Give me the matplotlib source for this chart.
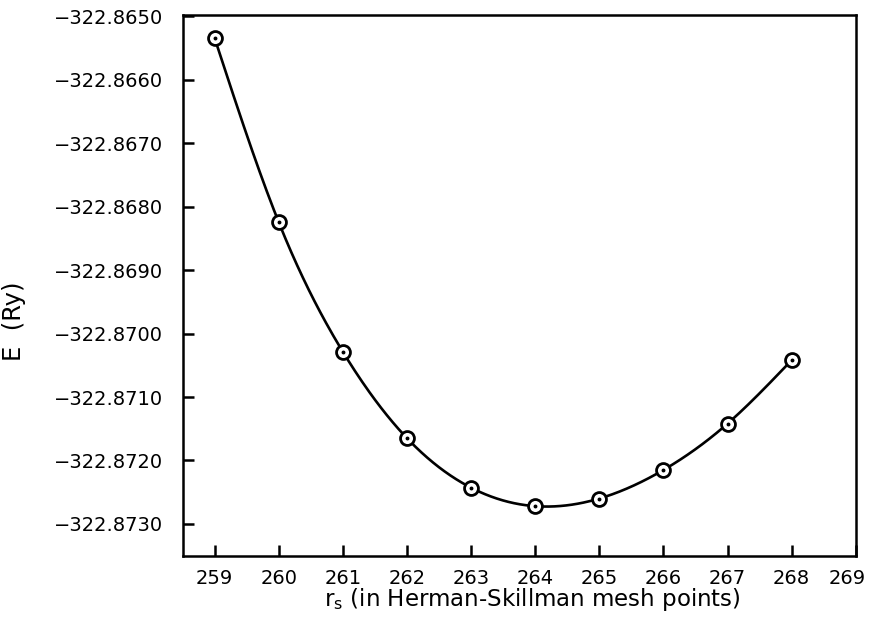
import numpy as np
import matplotlib
matplotlib.use("Agg")
import matplotlib.pyplot as plt
from matplotlib.transforms import ScaledTranslation

# mesh points and total energy (Ry)
rs = [259, 260, 261, 262, 263, 264, 265, 266, 267, 268]
energy = [-322.86535, -322.86825, -322.87029, -322.87165, -322.87243,
          -322.87272, -322.87260, -322.87215, -322.87142, -322.87042]

x_ticks = [259, 260, 261, 262, 263, 264, 265, 266, 267, 268, 269]
y_ticks = [-322.8650, -322.8660, -322.8670, -322.8680, -322.8690,
           -322.8700, -322.8710, -322.8720, -322.8730]
y_ticklabels = ["\u2212322.8650", "\u2212322.8660", "\u2212322.8670", "\u2212322.8680",
                "\u2212322.8690", "\u2212322.8700", "\u2212322.8710", "\u2212322.8720",
                "\u2212322.8730"]


def natural_spline(x, y, n=400):
    # smooth curve through the points, natural cubic spline
    x = np.asarray(x, float)
    y = np.asarray(y, float)
    k = len(x)
    h = np.diff(x)
    A = np.zeros((k, k))
    b = np.zeros(k)
    A[0, 0] = 1
    A[-1, -1] = 1
    for i in range(1, k - 1):
        A[i, i - 1] = h[i - 1]
        A[i, i] = 2 * (h[i - 1] + h[i])
        A[i, i + 1] = h[i]
        b[i] = 3 * ((y[i + 1] - y[i]) / h[i] - (y[i] - y[i - 1]) / h[i - 1])
    c = np.linalg.solve(A, b)
    xs = np.linspace(x[0], x[-1], n)
    idx = np.clip(np.searchsorted(x, xs) - 1, 0, k - 2)
    dx = xs - x[idx]
    hi = h[idx]
    bb = (y[idx + 1] - y[idx]) / hi - hi * (2 * c[idx] + c[idx + 1]) / 3
    dd = (c[idx + 1] - c[idx]) / (3 * hi)
    ys = y[idx] + bb * dx + c[idx] * dx ** 2 + dd * dx ** 3
    return xs, ys


fig = plt.figure(figsize=(8.7, 6.17), dpi=100)
ax = fig.add_axes([0.210, 0.0984, 0.7736, 0.8773])

xs, ys = natural_spline(rs, energy)
ax.plot(xs, ys, color="black", lw=1.9, zorder=2)
ax.plot(rs, energy, linestyle="none", marker="o", markersize=10,
        markerfacecolor="white", markeredgecolor="black", markeredgewidth=2.0, zorder=3)
ax.plot(rs, energy, linestyle="none", marker="o", markersize=1.8,
        color="black", zorder=4)

ax.set_xlim(258.5, 269.0)
ax.set_ylim(-322.87351, -322.86498)
ax.set_xticks(x_ticks)
ax.set_xticklabels([str(t) for t in x_ticks])
ax.set_yticks(y_ticks)
ax.set_yticklabels(y_ticklabels)

ax.tick_params(direction="in", length=8, width=1.8, labelsize=14)
ax.tick_params(axis="y", pad=14)
ax.tick_params(axis="x", pad=9)
for s in ax.spines.values():
    s.set_linewidth(1.8)

# last x label sits at the right edge, nudge it in
last = ax.get_xticklabels()[-1]
last.set_transform(last.get_transform() + ScaledTranslation(-6 / 72, 0, fig.dpi_scale_trans))

ax.set_ylabel("E  (Ry)", fontsize=17.5)
ax.yaxis.set_label_coords(-0.233, 0.435)
ax.set_xlabel(r"$\mathregular{r_s}$ (in Herman-Skillman mesh points)", fontsize=16.5)
ax.xaxis.set_label_coords(0.52, -0.055)

fig.savefig("out.png", dpi=100)
